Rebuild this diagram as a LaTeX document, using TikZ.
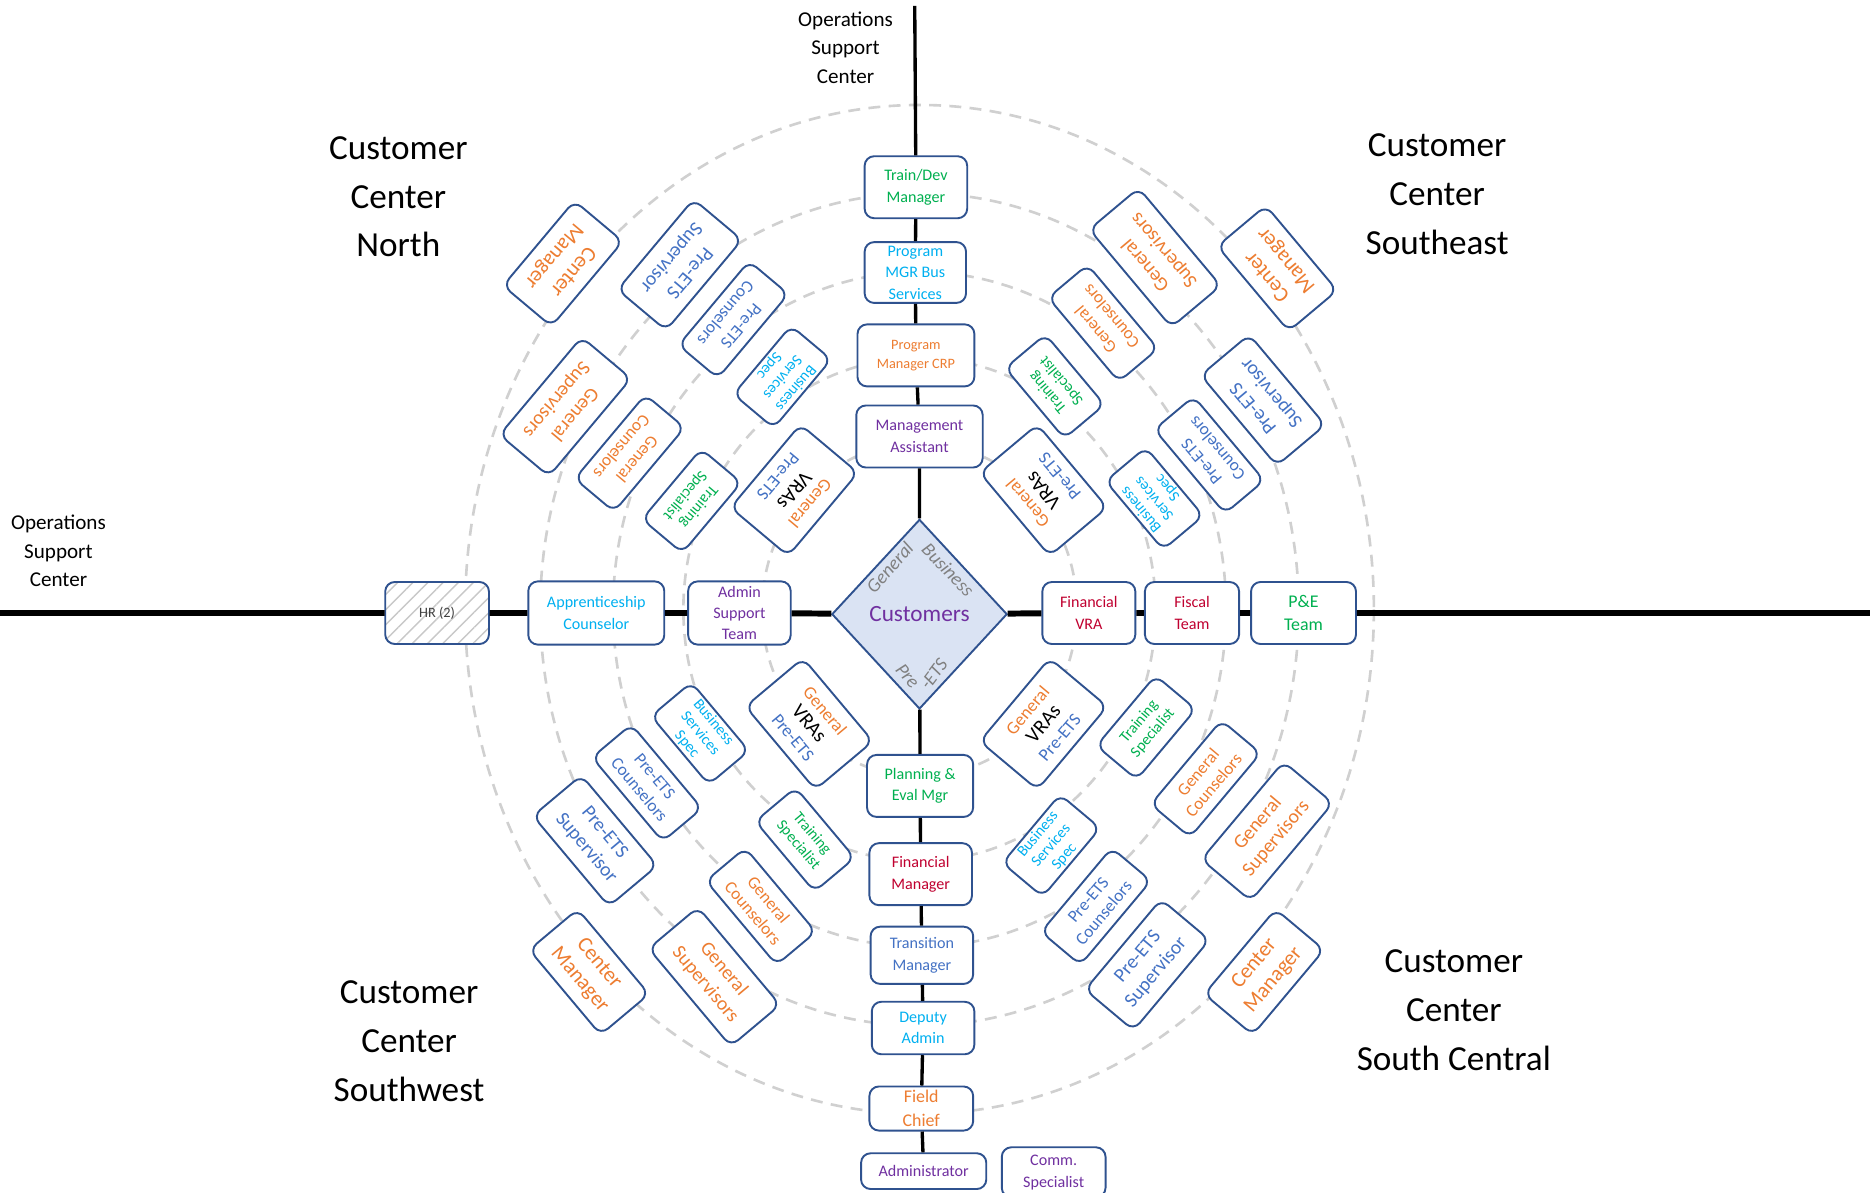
\documentclass[tikz,border=0pt]{standalone}
\usepackage{fontspec}
\setmainfont{Carlito}
\usetikzlibrary{shapes.geometric,patterns.meta}

\definecolor{boxblue}{HTML}{2F528F}
\definecolor{ora}{HTML}{ED7D31}
\definecolor{pblue}{HTML}{4472C4}
\definecolor{lblue}{HTML}{00B0F0}
\definecolor{grn}{HTML}{00B050}
\definecolor{purp}{HTML}{7030A0}
\definecolor{crim}{HTML}{C00030}
\definecolor{dfill}{HTML}{DAE3F3}
\definecolor{ringgray}{HTML}{D0D0D0}
\definecolor{diagray}{HTML}{808080}
\definecolor{hrgray}{HTML}{404040}
\definecolor{hatch}{HTML}{C8C8C8}

\begin{document}
\begin{tikzpicture}[x=1pt,y=-1pt,
    ring/.style={draw=ringgray,line width=2.2pt,dash pattern=on 10pt off 7pt},
    rbox/.style={draw=boxblue,line width=1.6pt,rounded corners=8pt,fill=white,align=center,inner sep=0pt},
    sbox/.style 2 args={rbox,minimum width=#1,minimum height=#2,font=\fontsize{13.5}{18}\selectfont},
    cmgr/.style={rbox,minimum width=93pt,minimum height=53pt,text=ora,font=\fontsize{18}{21}\selectfont},
    psup/.style={rbox,minimum width=99pt,minimum height=53pt,text=pblue,font=\fontsize{16.5}{20}\selectfont},
    gsup/.style={rbox,minimum width=107pt,minimum height=54pt,text=ora,font=\fontsize{16.5}{20}\selectfont},
    cnsl/.style={rbox,minimum width=92pt,minimum height=43pt,font=\fontsize{14.5}{17}\selectfont},
    bsvc/.style={rbox,minimum width=75pt,minimum height=44pt,text=lblue,font=\fontsize{13}{14.5}\selectfont},
    trng/.style={rbox,minimum width=77pt,minimum height=44pt,text=grn,font=\fontsize{13}{15}\selectfont},
    vras/.style={rbox,minimum width=91pt,minimum height=63pt,font=\fontsize{15}{17.5}\selectfont},
    lbl/.style={align=center,font=\fontsize{29.5}{41}\selectfont},
    ops/.style={align=center,font=\fontsize{17.7}{24}\selectfont},
    dlbl/.style={text=diagray,inner sep=0pt,font=\fontsize{16}{18}\selectfont\itshape},
    hline/.style={line width=5pt},
    vline/.style={line width=2.8pt}]

    \useasboundingbox (0,0) rectangle (1568,1000);

    \foreach \rx/\ry in {132/140,198/211,257/283,318/349,381/423}
        \draw[ring] (771,511) ellipse [x radius=\rx, y radius=\ry];

    \node[diamond,draw=boxblue,line width=1.6pt,fill=dfill,minimum width=147pt,minimum height=159pt,
        inner sep=0pt,text=purp,font=\fontsize{19.5}{22}\selectfont] (cust) at (771,515) {Customers};
    \node[dlbl,rotate=49] (dgen) at (746,476) {General};
    \node[dlbl,rotate=-46] (dbus) at (795,478) {Business};
    \node[dlbl,rotate=-50] (dpre) at (761,567) {Pre};
    \node[dlbl,rotate=53] (dets) at (783,565) {-ETS};

    \node[sbox={86pt}{52pt},text=grn] (tdm) at (768,157) {Train/Dev\\Manager};
    \node[sbox={85pt}{51pt},text=lblue] (pmb) at (767.5,228.5) {Program\\MGR Bus\\Services};
    \node[sbox={98pt}{52pt},text=ora,font=\fontsize{12}{16}\selectfont] (pmc) at (768,298) {Program\\Manager CRP};
    \node[sbox={106pt}{52pt},text=purp] (mas) at (771,366) {Management\\Assistant};

    \node[sbox={89pt}{52pt},text=grn] (pem) at (771.5,659) {Planning \&\\Eval Mgr};
    \node[sbox={86pt}{52pt},text=crim] (fmg) at (772,733) {Financial\\Manager};
    \node[sbox={86pt}{48pt},text=pblue] (trm) at (773,801) {Transition\\Manager};
    \node[sbox={86pt}{44pt},text=lblue] (dad) at (774,862) {Deputy\\Admin};
    \node[sbox={87pt}{37pt},text=ora,font=\fontsize{15}{20}\selectfont] (fch) at (772.5,929.5) {Field\\Chief};
    \node[sbox={105pt}{30pt},text=purp] (adm) at (774.5,982) {Administrator};
    \node[sbox={87pt}{42pt},text=purp] (com) at (883.5,983) {Comm.\\Specialist};

    \node[sbox={87pt}{52pt},text=hrgray,font=\fontsize{12}{14}\selectfont,preaction={fill=white},
        pattern={Lines[angle=45,distance=9pt,line width=1.2pt]},pattern color=hatch] (hr) at (366.5,514) {HR (2)};
    \node[sbox={114pt}{53pt},text=lblue] (apc) at (500,514) {Apprenticeship\\Counselor};
    \node[sbox={86pt}{53pt},text=purp] (ast) at (620,514) {Admin\\Support\\Team};
    \node[sbox={78pt}{52pt},text=crim] (fvr) at (913,514) {Financial\\VRA};
    \node[sbox={79pt}{52pt},text=crim] (fst) at (999.5,514) {Fiscal\\Team};
    \node[sbox={88pt}{52pt},text=grn,font=\fontsize{15}{20}\selectfont] (pet) at (1093,514) {P\&E\\Team};

    \node[cmgr,rotate=230] (nwcm) at (472,221) {Center\\Manager};
    \node[psup,rotate=230] (nwps) at (570,222) {Pre-ETS\\Supervisor};
    \node[cnsl,rotate=230,text=pblue] (nwpc) at (615,268) {Pre-ETS\\Counselors};
    \node[bsvc,rotate=230] (nwbs) at (656,316) {Business\\Services\\Spec};
    \node[gsup,rotate=230] (nwgs) at (474,341) {General\\Supervisors};
    \node[cnsl,rotate=230,text=ora] (nwgc) at (528,380) {General\\Counselors};
    \node[trng,rotate=230] (nwts) at (580,420) {Training\\Specialist};
    \node[vras,rotate=230] (nwvr) at (666,411) {{\color{ora}General}\\{\fontsize{17}{17.5}\selectfont VRAs}\\{\color{pblue}Pre-ETS}};

    \node[gsup,rotate=130] (negs) at (968.5,216) {General\\Supervisors};
    \node[cmgr,rotate=130] (necm) at (1071,225) {Center\\Manager};
    \node[cnsl,rotate=130,text=ora] (negc) at (925,271) {General\\Counselors};
    \node[trng,rotate=130] (nets) at (884.5,324) {Training\\Specialist};
    \node[psup,rotate=130] (neps) at (1059,335.5) {Pre-ETS\\Supervisor};
    \node[cnsl,rotate=130,text=pblue] (nepc) at (1014,381.5) {Pre-ETS\\Counselors};
    \node[bsvc,rotate=130] (nebs) at (968,418) {Business\\Services\\Spec};
    \node[vras,rotate=130] (nevr) at (875,411) {{\color{ora}General}\\{\fontsize{17}{17.5}\selectfont VRAs}\\{\color{pblue}Pre-ETS}};

    \node[vras,rotate=-50] (swvr) at (678.5,607) {{\color{ora}General}\\{\fontsize{17}{17.5}\selectfont VRAs}\\{\color{pblue}Pre-ETS}};
    \node[bsvc,rotate=-50] (swbs) at (587,615) {Business\\Services\\Spec};
    \node[cnsl,rotate=-50,text=pblue] (swpc) at (542.5,656.5) {Pre-ETS\\Counselors};
    \node[psup,rotate=-50] (swps) at (499,705) {Pre-ETS\\Supervisor};
    \node[trng,rotate=-50] (swts) at (675,704) {Training\\Specialist};
    \node[cnsl,rotate=-50,text=ora] (swgc) at (638,760) {General\\Counselors};
    \node[cmgr,rotate=-50] (swcm) at (494,815) {Center\\Manager};
    \node[gsup,rotate=-50] (swgs) at (599,819) {General\\Supervisors};

    \node[vras,rotate=50] (sevr) at (875,607) {{\color{ora}General}\\{\fontsize{17}{17.5}\selectfont VRAs}\\{\color{pblue}Pre-ETS}};
    \node[trng,rotate=50] (sets) at (961,610) {Training\\Specialist};
    \node[cnsl,rotate=50,text=ora] (segc) at (1011,653) {General\\Counselors};
    \node[gsup,rotate=50] (segs) at (1062.5,697) {General\\Supervisors};
    \node[bsvc,rotate=50] (sebs) at (881.5,709) {Business\\Services\\Spec};
    \node[cnsl,rotate=50,text=pblue] (sepc) at (919,760) {Pre-ETS\\Counselors};
    \node[psup,rotate=50] (seps) at (962,809) {Pre-ETS\\Supervisor};
    \node[cmgr,rotate=50] (secm) at (1060,815) {Center\\Manager};

    \node[ops] (opstop) at (709,40) {Operations\\Support\\Center};
    \node[ops] (opsleft) at (49,462) {Operations\\Support\\Center};
    \node[lbl] (ccn) at (334,165) {Customer\\Center\\North};
    \node[lbl] (ccse) at (1205,163) {Customer\\Center\\Southeast};
    \node[lbl] (ccsw) at (343,873) {Customer\\Center\\Southwest};
    \node[lbl] (ccsc) at (1219,847) {Customer\\Center\\South Central};

    \coordinate (ltip) at (0,514);
    \coordinate (rtip) at (1568,514);
    \coordinate (ttip) at (767,5);

    \draw[hline] (ltip) -- (hr) -- (apc) -- (ast) -- (cust) -- (fvr) -- (fst) -- (pet) -- (rtip);
    \draw[vline] (ttip) -- (tdm) -- (pmb) -- (pmc) -- (mas) -- (cust) -- (pem) -- (fmg) -- (trm) -- (dad) -- (fch) -- (adm);

\end{tikzpicture}
\end{document}
